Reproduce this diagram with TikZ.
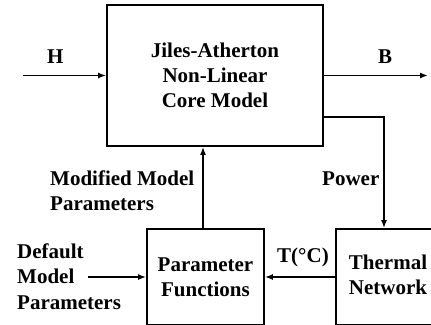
\documentclass[tikz,border=0pt]{standalone}
\usepackage{fontspec}
\setmainfont{Liberation Serif}
\usetikzlibrary{arrows.meta}
\begin{document}
\begin{tikzpicture}[x=1pt,y=-1pt,
  every node/.style={font=\fontsize{21}{25}\selectfont\bfseries},
  blk/.style={draw,line width=1.8pt,align=center,inner sep=0pt},
  lbl/.style={inner sep=0pt,anchor=base west},
  arr/.style={line width=1.8pt,-{Latex[length=8pt,width=6pt]}}]
\useasboundingbox[fill=white] (0,0) rectangle (431,324);
\node[blk,minimum width=216pt,minimum height=141pt] (jam) at (215,75.5) {Jiles-Atherton\\Non-Linear\\Core Model};
\node[blk,minimum width=117pt,minimum height=96pt] (param) at (205.5,277) {Parameter\\Functions};
\node[blk,minimum width=104pt,minimum height=96pt] (thermal) at (388,277) {\raisebox{3pt}{\begin{tabular}{@{}c@{}}Thermal\\Network\end{tabular}}};
\coordinate (hin) at (23,75.5);
\coordinate (bout) at (428,75.5);
\coordinate (dmp) at (88,277);
\draw[arr] (hin) -- (jam.west);
\draw[arr] (jam.east) -- (bout);
\draw[arr] ([yshift=-41.5pt]jam.east) -| ([xshift=-4pt]thermal.north);
\draw[arr] ([xshift=-2.5pt]param.north) -- ([xshift=-2.5pt]param.north |- jam.south);
\draw[arr] (thermal.west) -- (param.east);
\draw[arr] (dmp) -- (param.west);
\node[lbl] (h) at (47,63) {H};
\node[lbl] (b) at (378,63) {B};
\node[lbl] (mm1) at (50,185) {Modified Model};
\node[lbl] (mm2) at (50,210) {Parameters};
\node[lbl] (pw) at (322,185) {Power};
\node[lbl] (d1) at (17,258) {Default};
\node[lbl] (d2) at (17,283) {Model};
\node[lbl] (d3) at (17,309) {Parameters};
\node[lbl] (t) at (277,262) {T(°C)};
\end{tikzpicture}
\end{document}
